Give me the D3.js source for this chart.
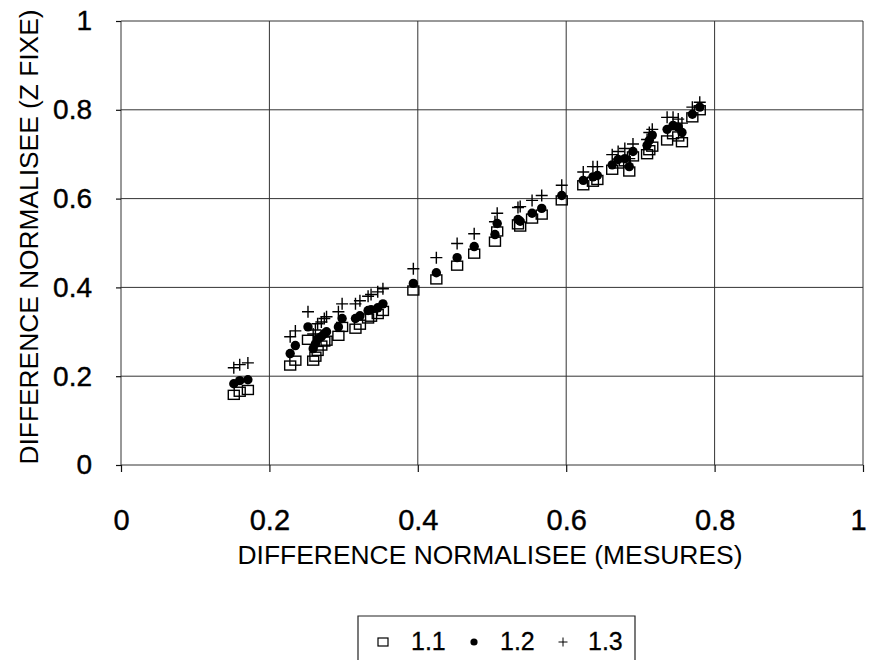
<!DOCTYPE html>
<html>
<head>
<meta charset="utf-8">
<script src="https://cdn.jsdelivr.net/npm/d3@7"></script>
<style>
    body { margin: 0; background: white; }
    svg { display: block; font-family: "Liberation Sans", Arial, sans-serif; }
</style>
</head>
<body>
<svg id="graphe" width="869" height="660"></svg>
<script>
// DONNÉES LUES SUR LE GRAPHIQUE
// abscisse commune : différence normalisée mesurée
const mesures = [
    0.152, 0.160, 0.171,
    0.228, 0.235, 0.252, 0.259, 0.262, 0.265, 0.270, 0.274, 0.277,
    0.293, 0.298, 0.316, 0.322, 0.333, 0.337, 0.346, 0.353,
    0.394, 0.425, 0.453, 0.476, 0.504, 0.507, 0.535, 0.538, 0.554, 0.567, 0.594,
    0.623, 0.636, 0.642, 0.662, 0.670, 0.679, 0.685, 0.690,
    0.709, 0.712, 0.716, 0.736, 0.744, 0.751, 0.756, 0.770, 0.780
]
// série 1.1 (carrés)
const serie11 = [
    0.158, 0.165, 0.169,
    0.224, 0.235, 0.282, 0.235, 0.244, 0.257, 0.269, 0.278, 0.280,
    0.291, 0.311, 0.307, 0.316, 0.330, 0.334, 0.340, 0.347,
    0.393, 0.418, 0.449, 0.476, 0.503, 0.526, 0.542, 0.537, 0.555, 0.564, 0.596,
    0.630, 0.638, 0.642, 0.665, 0.679, 0.684, 0.661, 0.695,
    0.700, 0.709, 0.717, 0.731, 0.745, 0.740, 0.727, 0.783, 0.799
]
// série 1.2 (points)
const serie12 = [
    0.183, 0.190, 0.192,
    0.251, 0.269, 0.311, 0.262, 0.273, 0.284, 0.289, 0.296, 0.300,
    0.311, 0.330, 0.330, 0.336, 0.348, 0.350, 0.354, 0.363,
    0.409, 0.433, 0.467, 0.492, 0.519, 0.544, 0.553, 0.549, 0.567, 0.578, 0.607,
    0.641, 0.649, 0.652, 0.676, 0.688, 0.690, 0.672, 0.706,
    0.720, 0.731, 0.743, 0.756, 0.765, 0.761, 0.749, 0.790, 0.806
]
// série 1.3 (croix)
const serie13 = [
    0.219, 0.226, 0.230,
    0.289, 0.302, 0.345, 0.295, 0.304, 0.318, 0.322, 0.330, 0.334,
    0.345, 0.363, 0.363, 0.370, 0.380, 0.384, 0.390, 0.397,
    0.442, 0.467, 0.499, 0.521, 0.548, 0.567, 0.580, 0.582, 0.596, 0.607, 0.630,
    0.660, 0.672, 0.672, 0.699, 0.706, 0.713, 0.690, 0.723,
    0.733, 0.749, 0.756, 0.783, 0.783, 0.779, 0.770, 0.806, 0.817
]
const graduations = [0, 0.2, 0.4, 0.6, 0.8, 1]
const nomsSeries = ['1.1', '1.2', '1.3']

const titreX = 'DIFFERENCE NORMALISEE (MESURES)'
const titreY = 'DIFFERENCE NORMALISEE (Z FIXE)'

// ÉCHELLES
const svg = d3.select('#graphe')
const echelleX = d3.scaleLinear().domain([0, 1]).range([121, 863])
const echelleY = d3.scaleLinear().domain([0, 1]).range([465, 21])

// Grille (lignes fines noires)
svg.append('g')
    .selectAll('line')
    .data(graduations)
    .join('line')
    .attr('x1', d => echelleX(d))
    .attr('x2', d => echelleX(d))
    .attr('y1', echelleY(0))
    .attr('y2', echelleY(1))
    .style('stroke', '#333')
    .style('stroke-width', 1)
svg.append('g')
    .selectAll('line')
    .data(graduations)
    .join('line')
    .attr('x1', echelleX(0))
    .attr('x2', echelleX(1))
    .attr('y1', d => echelleY(d))
    .attr('y2', d => echelleY(d))
    .style('stroke', '#333')
    .style('stroke-width', 1)

// Axes avec leurs taquets
const axeX = svg.append('g')
    .attr('transform', `translate(0,${echelleY(0)})`)
    .call(d3.axisBottom(echelleX).tickValues(graduations).tickSize(7).tickPadding(37).tickFormat(d3.format('')))
const axeY = svg.append('g')
    .attr('transform', `translate(${echelleX(0)},0)`)
    .call(d3.axisLeft(echelleY).tickValues(graduations).tickSize(5).tickPadding(24).tickFormat(d3.format('')))
svg.selectAll('.domain').remove()
svg.selectAll('g').attr('font-family', null)
svg.selectAll('.tick line').style('stroke', '#111').style('stroke-width', 1.2)
axeX.selectAll('text').style('font-size', '29px').attr('fill', '#000')
    .style('stroke', '#000').style('stroke-width', 0.4)
axeY.selectAll('text').style('font-size', '28px').attr('fill', '#000')
    .style('stroke', '#000').style('stroke-width', 0.4)
// le « 1 » de droite est collé au bord de l'image
axeX.selectAll('.tick').filter(d => d === 1).select('text').attr('dx', '-5')

// Titres des axes (police un peu resserrée)
svg.append('text')
    .attr('x', 490)
    .attr('y', 564)
    .attr('text-anchor', 'middle')
    .attr('textLength', 505)
    .attr('lengthAdjust', 'spacingAndGlyphs')
    .style('font-size', '25px')
    .text(titreX)
svg.append('text')
    .attr('transform', 'translate(38,237) rotate(-90)')
    .attr('text-anchor', 'middle')
    .attr('textLength', 455)
    .attr('lengthAdjust', 'spacingAndGlyphs')
    .style('font-size', '25px')
    .text(titreY)

// POINTS
const points = mesures.map((x, i) => ({ x: x, a: serie11[i], b: serie12[i], c: serie13[i] }))

svg.append('g')
    .selectAll('rect')
    .data(points)
    .join('rect')
    .attr('x', d => echelleX(d.x) - 5.5)
    .attr('y', d => echelleY(d.a) - 4.5)
    .attr('width', 11)
    .attr('height', 9)
    .attr('fill', 'none')
    .style('stroke', '#000')
    .style('stroke-width', 1.4)

svg.append('g')
    .selectAll('circle')
    .data(points)
    .join('circle')
    .attr('cx', d => echelleX(d.x))
    .attr('cy', d => echelleY(d.b))
    .attr('r', 4.7)
    .attr('fill', '#000')

svg.append('g')
    .selectAll('path')
    .data(points)
    .join('path')
    .attr('d', d => {
        const px = echelleX(d.x), py = echelleY(d.c)
        return `M${px - 6},${py}H${px + 6}M${px},${py - 6}V${py + 6}`
    })
    .style('stroke', '#000')
    .style('stroke-width', 1.4)

// LÉGENDE
const legende = svg.append('g')
legende.append('path')
    .attr('d', 'M358,670V616H635V670')
    .attr('fill', 'none')
    .style('stroke', '#222')
    .style('stroke-width', 1.2)
const posLegende = [{ m: 383, t: 411 }, { m: 474, t: 500 }, { m: 563, t: 588 }]
legende.append('rect')
    .attr('x', posLegende[0].m - 5).attr('y', 638)
    .attr('width', 10).attr('height', 8)
    .attr('fill', 'none')
    .style('stroke', '#000').style('stroke-width', 1.2)
legende.append('circle')
    .attr('cx', posLegende[1].m).attr('cy', 642)
    .attr('r', 3.6).attr('fill', '#000')
legende.append('path')
    .attr('d', `M${posLegende[2].m - 4.5},642H${posLegende[2].m + 4.5}M${posLegende[2].m},637.5V646.5`)
    .style('stroke', '#000').style('stroke-width', 1)
legende.selectAll('text.nom')
    .data(nomsSeries)
    .join('text')
    .attr('class', 'nom')
    .attr('x', (d, i) => posLegende[i].t)
    .attr('y', 650)
    .style('font-size', '25px')
    .style('stroke', '#000')
    .style('stroke-width', 0.3)
    .text(d => d)
</script>
</body>
</html>
